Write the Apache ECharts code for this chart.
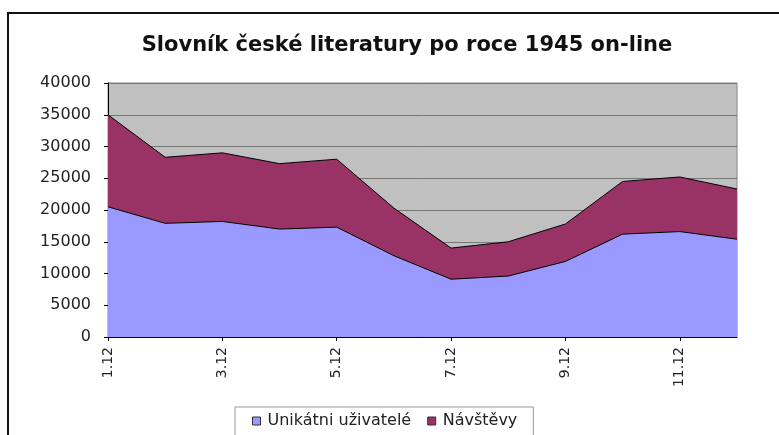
<!DOCTYPE html>
<html>
<head>
<meta charset="utf-8">
<script src="https://cdn.jsdelivr.net/npm/echarts@6/dist/echarts.min.js"></script>
<style>
  html, body { margin: 0; padding: 0; background: #fff; }
  #chart { width: 779px; height: 435px; }
</style>
</head>
<body>
<div id="chart"></div>
<script>
// dny v prosinci
var days = ['1.12', '2.12', '3.12', '4.12', '5.12', '6.12', '7.12', '8.12', '9.12', '10.12', '11.12', '12.12']
var uniqueUsers = [20500, 17900, 18200, 17000, 17300, 12800, 9100, 9600, 11900, 16200, 16600, 15400]
var visits = [14500, 10400, 10800, 10300, 10700, 7500, 4900, 5400, 5900, 8300, 8600, 7900]
var yTicks = { min: 0, max: 40000, interval: 5000 }

var chart = echarts.init(document.getElementById('chart'))

chart.setOption({
  animation: false,
  textStyle: { fontFamily: 'DejaVu Sans, sans-serif' },
  graphic: [{
    type: 'polyline',
    shape: { points: [[8, 435], [8, 13], [779, 13]] },
    style: { stroke: '#111', lineWidth: 2, fill: null }
  }],
  title: {
    text: 'Slovník české literatury po roce 1945 on-line',
    left: 402,
    textAlign: 'center',
    top: 30,
    textStyle: { fontSize: 21, fontWeight: 'bold', color: '#111' }
  },
  legend: {
    data: ['Unikátni uživatelé', 'Návštěvy'],
    left: 235,
    top: 407,
    padding: [6, 16, 12, 17],
    borderColor: '#999',
    borderWidth: 1,
    icon: 'rect',
    itemWidth: 8,
    itemHeight: 8,
    itemGap: 16,
    itemStyle: { borderColor: '#333', borderWidth: 1 },
    textStyle: { fontSize: 16, color: '#222', padding: [0, 0, 0, 2] }
  },
  grid: {
    left: 108,
    right: 42,
    top: 83,
    bottom: 98,
    show: true,
    backgroundColor: '#c0c0c0',
    borderColor: '#888',
    borderWidth: 1
  },
  xAxis: {
    type: 'category',
    data: days,
    boundaryGap: false,
    axisLine: { lineStyle: { color: '#000' } },
    axisTick: { interval: 1, length: 4, lineStyle: { color: '#000' } },
    axisLabel: { interval: 1, rotate: 90, fontSize: 14, color: '#222', margin: 10 },
    splitLine: { show: false }
  },
  yAxis: {
    type: 'value',
    min: yTicks.min,
    max: yTicks.max,
    interval: yTicks.interval,
    axisLine: { show: true, lineStyle: { color: '#000' } },
    axisTick: { show: true, length: 4, lineStyle: { color: '#000' } },
    axisLabel: { fontSize: 16, color: '#222', margin: 17, formatter: function(v) { return String(v) } },
    splitLine: { lineStyle: { color: '#777', width: 1 } }
  },
  series: [{
    name: 'Unikátni uživatelé',
    type: 'line',
    stack: 'total',
    symbol: 'none',
    data: uniqueUsers,
    itemStyle: { color: '#9999ff', borderColor: '#333' },
    lineStyle: { color: '#000', width: 1 },
    areaStyle: { color: '#9999ff', opacity: 1 }
  }, {
    name: 'Návštěvy',
    type: 'line',
    stack: 'total',
    symbol: 'none',
    data: visits,
    itemStyle: { color: '#993366', borderColor: '#333' },
    lineStyle: { color: '#000', width: 1 },
    areaStyle: { color: '#993366', opacity: 1 }
  }]
})
</script>
</body>
</html>
